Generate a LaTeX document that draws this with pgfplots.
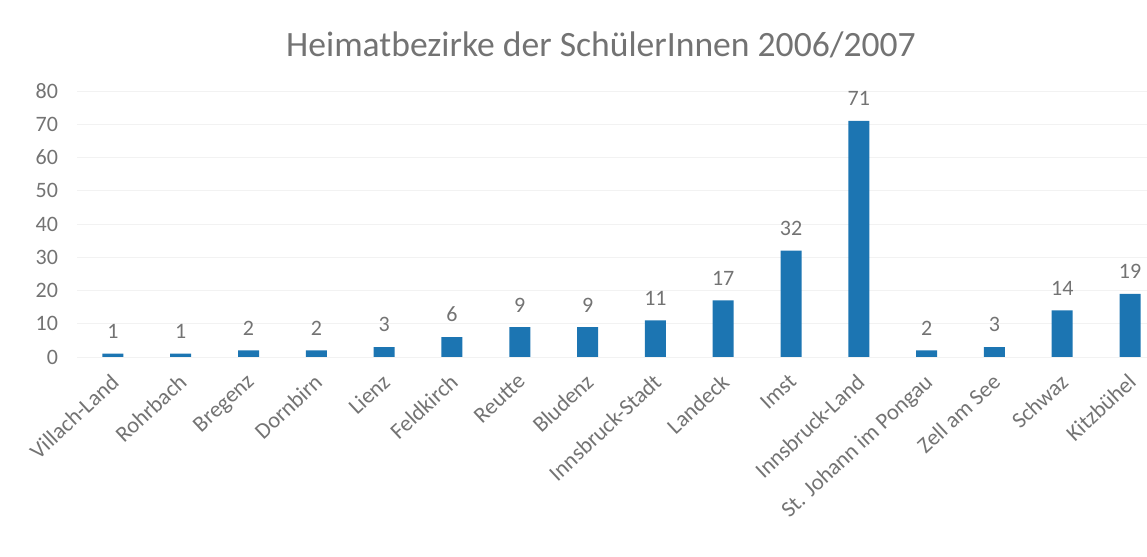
\documentclass[border=0pt]{standalone}
\usepackage{pgfplots}
\pgfplotsset{compat=1.18}
\usepackage{fontspec}
\setmainfont{Carlito}
\definecolor{barblue}{RGB}{28,117,178}
\definecolor{txtgray}{RGB}{115,115,115}
\begin{document}
\begin{tikzpicture}
\useasboundingbox (0,0) rectangle (573.5pt,278.5pt);
\node[font=\fontsize{17.8}{20}\selectfont, text=txtgray] at (300.5pt,256pt) {Heimatbezirke der SchülerInnen 2006/2007};
\begin{axis}[
  at={(38.5pt,100pt)}, anchor=south west,
  scale only axis, width=535pt, height=133pt,
  xmin=-0.53, xmax=15.25, ymin=0, ymax=80,
  ytick={0,10,...,80},
  xtick=data,
  xticklabels={Villach-Land,Rohrbach,Bregenz,Dornbirn,Lienz,Feldkirch,Reutte,Bludenz,Innsbruck-Stadt,Landeck,Imst,Innsbruck-Land,St. Johann im Pongau,Zell am See,Schwaz,Kitzbühel},
  x tick label style={rotate=43, anchor=north east, xshift=-3pt, yshift=-1pt, font=\fontsize{11.3}{13}\selectfont, text=txtgray},
  y tick label style={font=\fontsize{11}{13}\selectfont, text=txtgray},
  /pgf/number format/assume math mode=true,
  axis line style={draw=none},
  axis x line*=bottom, axis y line*=left,
  major tick length=0pt,
  ymajorgrids, grid style={draw=gray!10, line width=0.4pt},
  ybar, bar width=10.5pt,
  nodes near coords,
  every node near coord/.append style={font=\fontsize{11}{13}\selectfont, text=txtgray, yshift=4pt},
  yticklabel style={xshift=-6pt},
]
\addplot[fill=barblue, draw=none] coordinates {
(0,1) (1,1) (2,2) (3,2) (4,3) (5,6) (6,9) (7,9) (8,11) (9,17) (10,32) (11,71) (12,2) (13,3) (14,14) (15,19)
};
\end{axis}
\end{tikzpicture}
\end{document}
